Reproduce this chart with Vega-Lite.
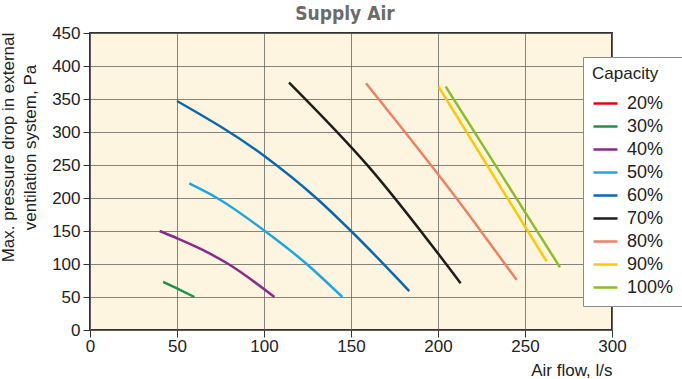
{
  "$schema": "https://vega.github.io/schema/vega-lite/v6.json",
  "width": 522,
  "height": 297,
  "autosize": {"type": "none"},
  "padding": {"left": 90, "top": 33, "right": 70, "bottom": 49},
  "background": "white",
  "title": {
    "text": "Supply Air",
    "font": "DejaVu Sans Condensed, sans-serif",
    "fontSize": 19,
    "fontWeight": "bold",
    "color": "#6b6b6b",
    "anchor": "middle",
    "frame": "group",
    "dx": -6,
    "offset": 0
  },
  "config": {
    "view": {"fill": "#fef5e1", "stroke": "#333333", "strokeWidth": 2},
    "axis": {
      "labelFont": "Liberation Sans, Arial, sans-serif",
      "labelFontSize": 17,
      "labelColor": "#222222",
      "labelFlush": false,
      "titleFont": "Liberation Sans, Arial, sans-serif",
      "titleFontSize": 16,
      "titleFontWeight": "normal",
      "titleColor": "#222222",
      "gridColor": "#666666",
      "gridOpacity": 0.8,
      "gridWidth": 1,
      "tickColor": "#333333",
      "tickSize": 7,
      "domain": false
    },
    "legend": {
      "titleFont": "Liberation Sans, Arial, sans-serif",
      "labelFont": "Liberation Sans, Arial, sans-serif"
    }
  },
  "data": {
    "values": [
      {"capacity": "30%", "flow": 42, "pressure": 73},
      {"capacity": "30%", "flow": 50, "pressure": 63},
      {"capacity": "30%", "flow": 60, "pressure": 50},
      {"capacity": "40%", "flow": 40, "pressure": 150},
      {"capacity": "40%", "flow": 50, "pressure": 139},
      {"capacity": "40%", "flow": 65, "pressure": 121},
      {"capacity": "40%", "flow": 79.5, "pressure": 100},
      {"capacity": "40%", "flow": 106, "pressure": 50},
      {"capacity": "50%", "flow": 57, "pressure": 222},
      {"capacity": "50%", "flow": 73, "pressure": 200},
      {"capacity": "50%", "flow": 100.5, "pressure": 150},
      {"capacity": "50%", "flow": 124.5, "pressure": 100},
      {"capacity": "50%", "flow": 145, "pressure": 50},
      {"capacity": "60%", "flow": 50, "pressure": 347},
      {"capacity": "60%", "flow": 100, "pressure": 264},
      {"capacity": "60%", "flow": 130, "pressure": 200},
      {"capacity": "60%", "flow": 150, "pressure": 150},
      {"capacity": "60%", "flow": 183.5, "pressure": 59},
      {"capacity": "70%", "flow": 114.4, "pressure": 375},
      {"capacity": "70%", "flow": 160, "pressure": 248},
      {"capacity": "70%", "flow": 213, "pressure": 71},
      {"capacity": "80%", "flow": 158.6, "pressure": 374},
      {"capacity": "80%", "flow": 181, "pressure": 300},
      {"capacity": "80%", "flow": 210.5, "pressure": 200},
      {"capacity": "80%", "flow": 238.5, "pressure": 100},
      {"capacity": "80%", "flow": 245.2, "pressure": 76},
      {"capacity": "90%", "flow": 200.2, "pressure": 369},
      {"capacity": "90%", "flow": 262.4, "pressure": 104},
      {"capacity": "100%", "flow": 204.4, "pressure": 369},
      {"capacity": "100%", "flow": 270.1, "pressure": 95}
    ]
  },
  "mark": {"type": "line", "strokeWidth": 2.5, "interpolate": "monotone"},
  "encoding": {
    "x": {
      "field": "flow",
      "type": "quantitative",
      "scale": {"domain": [0, 300], "nice": false},
      "axis": {
        "values": [0, 50, 100, 150, 200, 250, 300],
        "title": "Air flow, l/s",
        "titleFontSize": 17,
        "titleAnchor": "end",
        "titleAlign": "right",
        "titlePadding": 8,
        "labelPadding": 1
      }
    },
    "y": {
      "field": "pressure",
      "type": "quantitative",
      "scale": {"domain": [0, 450], "nice": false},
      "axis": {
        "values": [0, 50, 100, 150, 200, 250, 300, 350, 400, 450],
        "title": ["Max. pressure drop in external", "ventilation system, Pa"],
        "titleFontSize": 17,
        "titleLineHeight": 22,
        "titlePadding": 12,
        "titleY": 114,
        "labelPadding": 3
      }
    },
    "color": {
      "field": "capacity",
      "type": "nominal",
      "scale": {
        "domain": ["20%", "30%", "40%", "50%", "60%", "70%", "80%", "90%", "100%"],
        "range": ["#e30613", "#1a9448", "#8a2a8a", "#1ea6e0", "#0b68b0", "#1d1d1b", "#f07f62", "#fdc800", "#8dbd2a"]
      },
      "legend": {
        "title": "Capacity",
        "orient": "none",
        "legendX": 493,
        "legendY": 24,
        "fillColor": "white",
        "strokeColor": "#8a8a8a",
        "padding": 9,
        "titleFontSize": 17,
        "titleFontWeight": "normal",
        "titleColor": "#222222",
        "titlePadding": 7,
        "labelFontSize": 18,
        "labelColor": "#222222",
        "labelOffset": 8,
        "symbolType": "stroke",
        "symbolSize": 576,
        "symbolStrokeWidth": 2.5,
        "rowPadding": 0
      }
    }
  }
}
